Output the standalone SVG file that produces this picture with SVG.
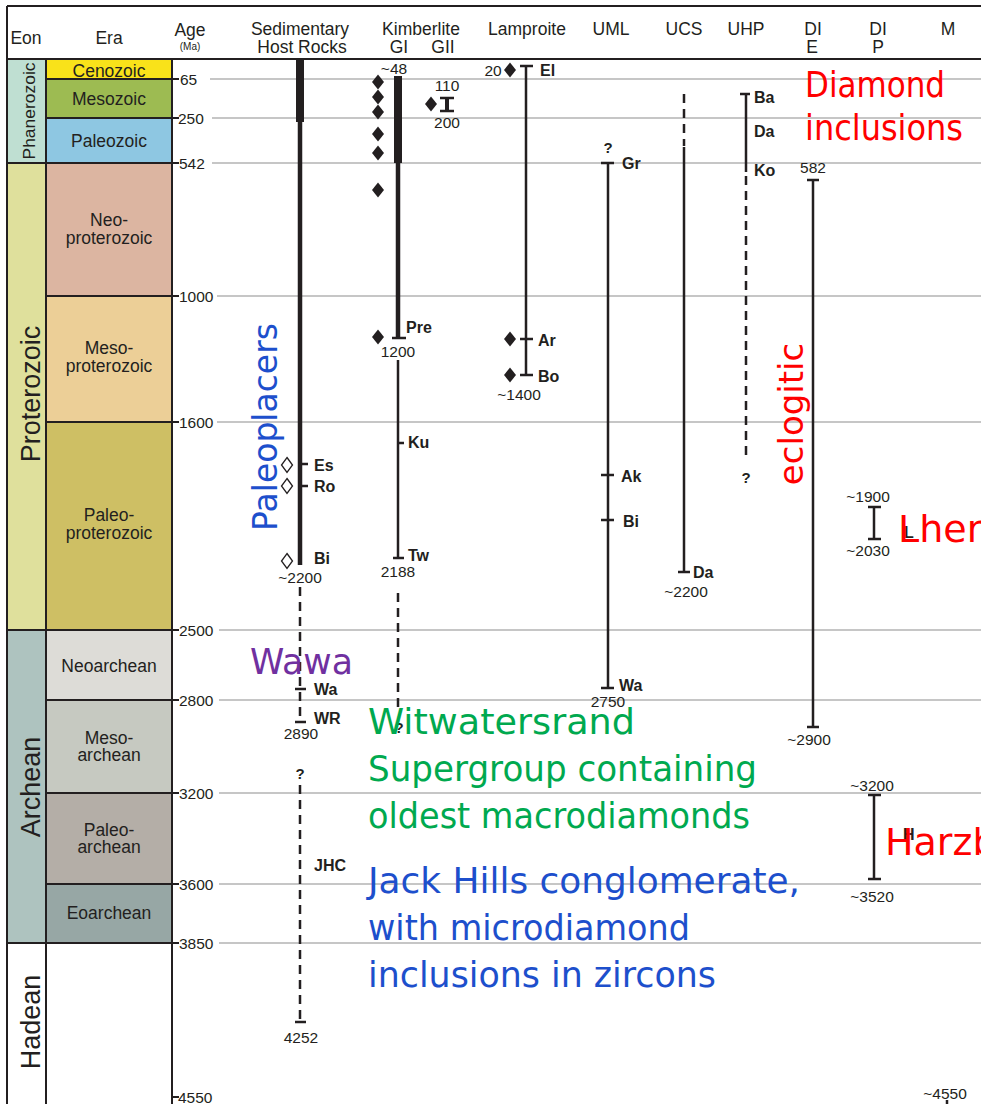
<svg xmlns="http://www.w3.org/2000/svg" width="981" height="1104" viewBox="0 0 981 1104">
<style>
.t{font-family:"Liberation Sans",Arial,sans-serif;fill:#231f20}
.h{font-size:17.5px;text-anchor:middle}
.era{font-size:17.5px;text-anchor:middle}
.eon{font-size:27px;text-anchor:middle}
.age{font-size:15.5px}
.n{font-size:15.5px;text-anchor:middle}
.b{font-size:16px;font-weight:bold}
.q{font-size:15px;font-weight:bold;text-anchor:middle}
.grid{stroke:#b3b3b3;stroke-width:1.5}
.bd{stroke:#231f20;stroke-width:2;fill:none}
.ln{stroke:#231f20;stroke-width:2.5;fill:none}
.dash{stroke:#231f20;stroke-width:2.5;stroke-dasharray:9 6;fill:none}
.hw{font-family:"DejaVu Sans",sans-serif}
.red{fill:#ff0000}
.blue{fill:#1d4fcc}
.green{fill:#00a94f}
.purple{fill:#7030a0}
</style>
<defs>
<path id="fd" d="M0,-7.5 L6,0 L0,7.5 L-6,0 Z" fill="#231f20"/>
<path id="od" d="M0,-7.5 L5.5,0 L0,7.5 L-5.5,0 Z" fill="#ffffff" stroke="#231f20" stroke-width="1.3"/>
</defs>
<rect x="0" y="0" width="981" height="1104" fill="#ffffff"/>

<g id="grid">
<line class="grid" x1="210" y1="79" x2="981" y2="79"/>
<line class="grid" x1="212" y1="118" x2="981" y2="118"/>
<line class="grid" x1="212" y1="163" x2="981" y2="163"/>
<line class="grid" x1="217" y1="296" x2="981" y2="296"/>
<line class="grid" x1="217" y1="422" x2="981" y2="422"/>
<line class="grid" x1="219" y1="630" x2="981" y2="630"/>
<line class="grid" x1="219" y1="700" x2="981" y2="700"/>
<line class="grid" x1="219" y1="793" x2="981" y2="793"/>
<line class="grid" x1="219" y1="884" x2="981" y2="884"/>
<line class="grid" x1="219" y1="943" x2="981" y2="943"/>
</g>

<g id="timescale">
<rect x="7" y="60" width="39" height="103" fill="#bfdfd2"/>
<rect x="7" y="163" width="39" height="467" fill="#dfe09c"/>
<rect x="7" y="630" width="39" height="313" fill="#aec3bf"/>
<rect x="47" y="60" width="125" height="19" fill="#f9e21a"/>
<rect x="47" y="79" width="125" height="39" fill="#9dbb52"/>
<rect x="47" y="118" width="125" height="45" fill="#8ec7e2"/>
<rect x="47" y="163" width="125" height="133" fill="#dcb5a1"/>
<rect x="47" y="296" width="125" height="126" fill="#eccf97"/>
<rect x="47" y="422" width="125" height="208" fill="#cebf64"/>
<rect x="47" y="630" width="125" height="70" fill="#dddcd7"/>
<rect x="47" y="700" width="125" height="93" fill="#c6c9c1"/>
<rect x="47" y="793" width="125" height="91" fill="#b4aea7"/>
<rect x="47" y="884" width="125" height="59" fill="#97a7a5"/>
<path class="bd" d="M46,79H172M46,118H172M7,163H172M46,296H172M46,422H172M7,630H172M46,700H172M46,793H172M46,884H172M7,943H172"/>
<path class="bd" d="M7,6H981"/>
<path class="bd" stroke-width="2.5" d="M7,59H981"/>
<path class="bd" d="M7,6V1104M46,59V1104"/>
<path class="bd" stroke-width="2.5" d="M172,59V1104"/>
<path class="bd" d="M172,79H179M172,118H179M172,163H179M172,296H179M172,422H179M172,630H179M172,700H179M172,793H179M172,884H179M172,943H179M172,1097H179"/>
</g>

<g id="header" class="t">
<text class="h" x="26" y="44">Eon</text>
<text class="h" x="109" y="44">Era</text>
<text class="h" x="190" y="36">Age</text>
<text x="190" y="50" style="font-size:10px" text-anchor="middle">(Ma)</text>
<text class="h" x="300" y="35">Sedimentary</text>
<text class="h" x="302" y="53">Host Rocks</text>
<text class="h" x="421" y="35">Kimberlite</text>
<text class="h" x="399" y="53">GI</text>
<text class="h" x="443" y="53">GII</text>
<text class="h" x="527" y="35">Lamproite</text>
<text class="h" x="611" y="35">UML</text>
<text class="h" x="684" y="35">UCS</text>
<text class="h" x="746" y="35">UHP</text>
<text class="h" x="813" y="35">DI</text>
<text class="h" x="812" y="53">E</text>
<text class="h" x="878" y="35">DI</text>
<text class="h" x="878" y="53">P</text>
<text class="h" x="948" y="35">M</text>
</g>

<g id="eons" class="t">
<text class="eon" style="font-size:17px" textLength="97" lengthAdjust="spacingAndGlyphs" transform="translate(35,111) rotate(-90)">Phanerozoic</text>
<text class="eon" transform="translate(40,394) rotate(-90)">Proterozoic</text>
<text class="eon" transform="translate(40,787) rotate(-90)">Archean</text>
<text class="eon" transform="translate(40,1022) rotate(-90)">Hadean</text>
</g>

<g id="eras" class="t">
<text class="era" x="109" y="77">Cenozoic</text>
<text class="era" x="109" y="105">Mesozoic</text>
<text class="era" x="109" y="147">Paleozoic</text>
<text class="era" x="109" y="226">Neo-</text>
<text class="era" x="109" y="244">proterozoic</text>
<text class="era" x="109" y="354">Meso-</text>
<text class="era" x="109" y="372">proterozoic</text>
<text class="era" x="109" y="521">Paleo-</text>
<text class="era" x="109" y="539">proterozoic</text>
<text class="era" x="109" y="672">Neoarchean</text>
<text class="era" x="109" y="744">Meso-</text>
<text class="era" x="109" y="761">archean</text>
<text class="era" x="109" y="836">Paleo-</text>
<text class="era" x="109" y="853">archean</text>
<text class="era" x="109" y="919">Eoarchean</text>
</g>

<g id="ages" class="t age">
<text x="180" y="85">65</text>
<text x="178" y="124">250</text>
<text x="179" y="169">542</text>
<text x="179" y="302">1000</text>
<text x="179" y="428">1600</text>
<text x="179" y="636">2500</text>
<text x="179" y="706">2800</text>
<text x="179" y="799">3200</text>
<text x="179" y="890">3600</text>
<text x="179" y="949">3850</text>
<text x="178" y="1103">4550</text>
</g>

<g id="connectors">
<line x1="300" y1="60" x2="300" y2="122" stroke="#231f20" stroke-width="8"/>
<line x1="300" y1="120" x2="300" y2="565" stroke="#231f20" stroke-width="4.5"/>
<path class="ln" d="M302,464H308M302,486H308"/>
<line class="dash" x1="300" y1="587" x2="300" y2="720"/>
<path class="ln" d="M295,689H306M295,722H306"/>
<line class="dash" x1="300" y1="785" x2="300" y2="1020"/>
<path class="ln" d="M295,1022H306"/>
<line x1="398" y1="76" x2="398" y2="163" stroke="#231f20" stroke-width="8"/>
<line x1="398" y1="161" x2="398" y2="338" stroke="#231f20" stroke-width="4.5"/>
<path class="ln" d="M392,338H406"/>
<line class="ln" x1="398" y1="360" x2="398" y2="558"/>
<path class="ln" d="M398,443H404M393,558H404"/>
<line class="dash" x1="398" y1="593" x2="398" y2="712"/>
<line x1="447" y1="98" x2="447" y2="111" stroke="#231f20" stroke-width="4"/>
<path stroke="#231f20" stroke-width="2.5" d="M440,98H454M440,111H454"/>
<line class="ln" x1="526" y1="66" x2="526" y2="375"/>
<path class="ln" d="M520,66H533M520,339H533M520,375H533"/>
<line class="ln" x1="608" y1="163" x2="608" y2="688"/>
<path class="ln" d="M601,163H614M601,475H614M601,520H614M601,688H614"/>
<line class="dash" stroke-dasharray="9 8" x1="684" y1="94" x2="684" y2="146"/>
<line class="ln" x1="684" y1="147" x2="684" y2="572"/>
<path class="ln" d="M678,572H690"/>
<line class="ln" x1="746" y1="94" x2="746" y2="172"/>
<path class="ln" d="M740,94H750"/>
<line class="dash" stroke-dasharray="9 7" x1="746" y1="176" x2="746" y2="457"/>
<line class="ln" x1="813" y1="180" x2="813" y2="727"/>
<path class="ln" d="M807,180H819M807,727H819"/>
<line class="ln" x1="874" y1="507" x2="874" y2="539"/>
<path class="ln" d="M868,507H881M868,539H881"/>
<line class="ln" x1="874" y1="795" x2="874" y2="879"/>
<path class="ln" d="M868,795H881M868,879H881"/>
<line class="ln" x1="947" y1="1100" x2="947" y2="1104"/>
</g>

<g id="diamonds">
<use href="#fd" x="378" y="82"/>
<use href="#fd" x="378" y="97"/>
<use href="#fd" x="378" y="112"/>
<use href="#fd" x="378" y="134"/>
<use href="#fd" x="378" y="153"/>
<use href="#fd" x="378" y="190"/>
<use href="#fd" x="378" y="337"/>
<use href="#fd" x="431" y="104"/>
<use href="#fd" x="510" y="70"/>
<use href="#fd" x="510" y="339"/>
<use href="#fd" x="510" y="375"/>
<use href="#od" x="287" y="465"/>
<use href="#od" x="287" y="486"/>
<use href="#od" x="287" y="561"/>
</g>

<g id="labels" class="t">
<text class="b" x="314" y="471">Es</text>
<text class="b" x="314" y="492">Ro</text>
<text class="b" x="314" y="564">Bi</text>
<text class="n" x="300" y="583">~2200</text>
<text class="b" x="314" y="695">Wa</text>
<text class="b" x="314" y="724">WR</text>
<text class="n" x="301" y="739">2890</text>
<text class="q" x="300" y="779">?</text>
<text class="b" x="314" y="871">JHC</text>
<text class="n" x="301" y="1043">4252</text>
<text class="n" x="394" y="74">~48</text>
<text class="b" x="406" y="333">Pre</text>
<text class="n" x="398" y="357">1200</text>
<text class="b" x="408" y="448">Ku</text>
<text class="b" x="408" y="561">Tw</text>
<text class="n" x="398" y="577">2188</text>
<text class="q" x="399" y="733">?</text>
<text class="n" x="447" y="91">110</text>
<text class="n" x="447" y="128">200</text>
<text class="n" x="493" y="76">20</text>
<text class="b" x="540" y="76">El</text>
<text class="b" x="538" y="346">Ar</text>
<text class="b" x="538" y="382">Bo</text>
<text class="n" x="519" y="400">~1400</text>
<text class="q" x="608" y="153">?</text>
<text class="b" x="622" y="169">Gr</text>
<text class="b" x="621" y="482">Ak</text>
<text class="b" x="623" y="527">Bi</text>
<text class="b" x="619" y="691">Wa</text>
<text class="n" x="608" y="707">2750</text>
<text class="b" x="693" y="578">Da</text>
<text class="n" x="686" y="597">~2200</text>
<text class="b" x="754" y="103">Ba</text>
<text class="b" x="754" y="137">Da</text>
<text class="b" x="754" y="176">Ko</text>
<text class="q" x="746" y="483">?</text>
<text class="n" x="813" y="173">582</text>
<text class="n" x="809" y="745">~2900</text>
<text class="n" x="868" y="502">~1900</text>
<text class="n" x="868" y="556">~2030</text>
<text class="n" x="872" y="791">~3200</text>
<text class="n" x="872" y="902">~3520</text>
<text class="b" x="904" y="538">L</text>
<text class="b" x="903" y="840">H</text>
<text class="n" x="945" y="1099">~4550</text>
</g>

<g id="annotations">
<text class="hw red" x="805" y="97" style="font-size:36px" textLength="140" lengthAdjust="spacingAndGlyphs">Diamond</text>
<text class="hw red" x="805" y="140" style="font-size:36px" textLength="158" lengthAdjust="spacingAndGlyphs">inclusions</text>
<text class="hw red" style="font-size:34px" text-anchor="middle" transform="translate(803,414) rotate(-90)">eclogitic</text>
<text class="hw red" x="898" y="542" style="font-size:38px">Lher</text>
<text class="hw red" x="885" y="855" style="font-size:38px">Harzb</text>
<text class="hw blue" style="font-size:33px" text-anchor="middle" transform="translate(277,427) rotate(-90)">Paleoplacers</text>
<text class="hw purple" x="250" y="674" style="font-size:35px" textLength="103" lengthAdjust="spacingAndGlyphs">Wawa</text>
<text class="hw green" x="368" y="734" style="font-size:35px" textLength="267" lengthAdjust="spacingAndGlyphs">Witwatersrand</text>
<text class="hw green" x="368" y="781" style="font-size:35px" textLength="389" lengthAdjust="spacingAndGlyphs">Supergroup  containing</text>
<text class="hw green" x="368" y="828" style="font-size:35px" textLength="382" lengthAdjust="spacingAndGlyphs">oldest macrodiamonds</text>
<text class="hw blue" x="368" y="893" style="font-size:35px" textLength="432" lengthAdjust="spacingAndGlyphs">Jack Hills conglomerate,</text>
<text class="hw blue" x="368" y="940" style="font-size:35px" textLength="322" lengthAdjust="spacingAndGlyphs">with microdiamond</text>
<text class="hw blue" x="368" y="987" style="font-size:35px" textLength="348" lengthAdjust="spacingAndGlyphs">inclusions in zircons</text>
</g>
</svg>
